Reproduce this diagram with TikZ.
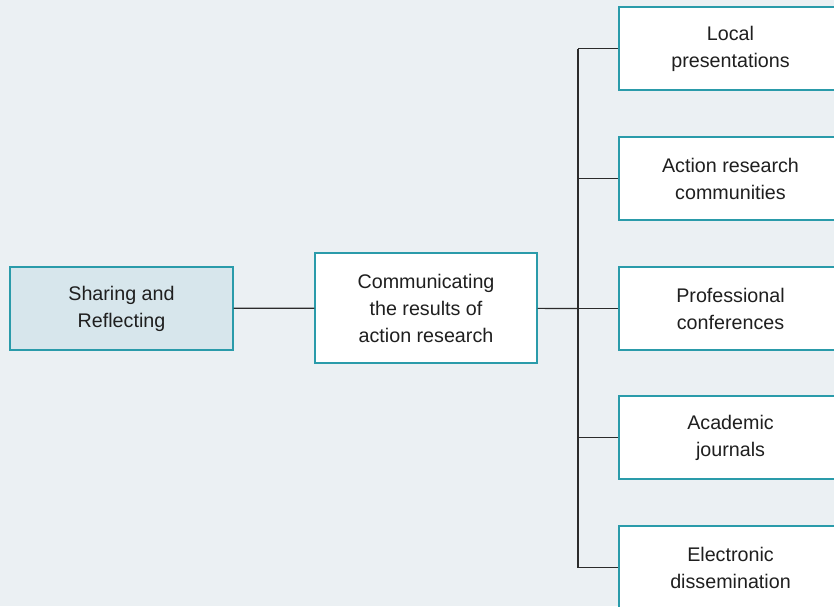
\documentclass[tikz,border=0pt]{standalone}
\usepackage{fontspec}
\setmainfont{Liberation Sans}
\begin{document}
\definecolor{bgpanel}{HTML}{EBF0F3}
\definecolor{boxline}{HTML}{2A9BAA}
\definecolor{rootfill}{HTML}{D7E6EC}
\definecolor{wire}{HTML}{2B2B2B}
\begin{tikzpicture}[x=1pt,y=1pt,
  box/.style={draw=boxline,line width=1.4pt,fill=white,align=center,
    minimum width=223pt,minimum height=83pt,inner sep=0pt,
    font=\fontsize{19.7}{27}\selectfont,text=black!88},
  rootbox/.style={box,fill=rootfill},
  link/.style={draw=wire,line width=1.2pt}]
\useasboundingbox (0,0) rectangle (834,-606);
\clip (0,0) rectangle (834,-606);
\fill[bgpanel] (0,0) rectangle (834,-606);

\node[rootbox] (share) at (121.5,-308.5) {Sharing and\\Reflecting};
\node[box,minimum width=222pt,minimum height=110pt] (comm) at (426,-308)
  {Communicating\\the results of\\action research};

\node[box] (loc)  at (730.5,-48.5)  {Local\\presentations};
\node[box] (act)  at (730.5,-178.5) {Action research\\communities};
\node[box] (prof) at (730.5,-308.5) {Professional\\conferences};
\node[box] (acad) at (730.5,-437.5) {Academic\\journals};
\node[box] (elec) at (730.5,-567.5) {Electronic\\dissemination};

\coordinate (hub) at (578,-308.5);

\draw[link] (share) -- (comm);
\draw[link] (comm) -- (hub);
\draw[link] (hub |- loc) -- (hub |- elec);
\foreach \t in {loc,act,prof,acad,elec}
  \draw[link] (hub |- \t) -- (\t);
\end{tikzpicture}
\end{document}
